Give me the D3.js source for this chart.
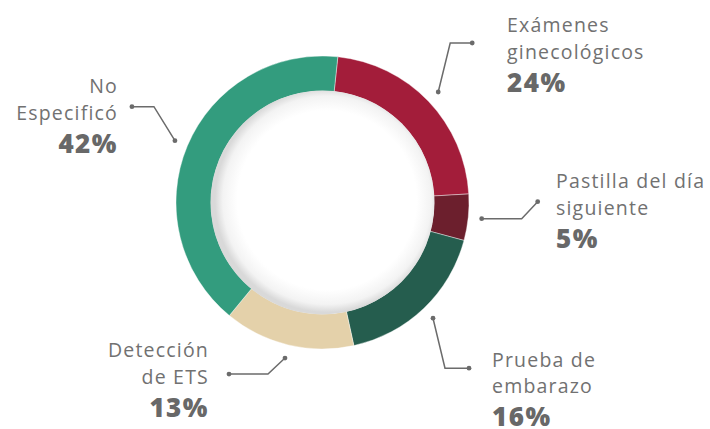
<!DOCTYPE html>
<html>
<head>
<meta charset="utf-8">
<script src="https://cdn.jsdelivr.net/npm/d3@7"></script>
<style>
  html, body { margin: 0; padding: 0; background: #fff; }
  svg { display: block; }
</style>
</head>
<body>
<div id="chart"></div>
<script>
// categories, slice sizes and the printed percent labels
var categories = [["Exámenes", "ginecológicos"], ["Pastilla del día", "siguiente"], ["Prueba de", "embarazo"], ["Detección", "de ETS"], ["No", "Especificó"]];
var values = [22.4, 5.1, 17.4, 14.4, 40.7];
var percentLabels = ["24%", "5%", "16%", "13%", "42%"];
var colors = ["#A31D3A", "#6C1F2D", "#255D4E", "#E4D1AA", "#339C7E"];

// where each label block and its leader go (layout only)
// bend = offset of the elbow from the dot on the ring, end = second dot, text = anchor of first line
var layout = [
  { bend: [12, -49], end: [34, -49], text: [507, 32], anchor: "start" },
  { bend: [40, 0], end: [56, -17], text: [556, 188], anchor: "start" },
  { bend: [12, 50], end: [36, 50], text: [492, 366.5], anchor: "start" },
  { bend: [-17, 16], end: [-56, 16], text: [209, 357], anchor: "end" },
  { bend: [-21, -34], end: [-43, -34], text: [118, 93], anchor: "end" }
];

var width = 710, height = 429;
var cx = 322.5, cy = 202.5, outerR = 146.5, innerR = 111.5;

var svg = d3.select("#chart").append("svg")
  .attr("width", width)
  .attr("height", height);

var defs = svg.append("defs");
var grad = defs.append("radialGradient")
  .attr("id", "innerShade")
  .attr("cx", "52%").attr("cy", "49%").attr("r", "50%");
grad.append("stop").attr("offset", "0.8").attr("stop-color", "#ffffff");
grad.append("stop").attr("offset", "0.93").attr("stop-color", "#f3f3f3");
grad.append("stop").attr("offset", "1").attr("stop-color", "#d9d9d9");

var g = svg.append("g").attr("transform", "translate(" + cx + "," + cy + ")");

// start angle: the first slice begins a little right of 12 o'clock
var startAngle = 6 * Math.PI / 180;
var pie = d3.pie()
  .sort(null)
  .startAngle(startAngle)
  .endAngle(startAngle + 2 * Math.PI);

var arcs = pie(values);

var arc = d3.arc()
  .innerRadius(innerR)
  .outerRadius(outerR);

g.selectAll("path.slice")
  .data(arcs)
  .enter()
  .append("path")
  .attr("class", "slice")
  .attr("d", arc)
  .attr("fill", function(d, i) { return colors[i]; })
  .attr("stroke", "#fff")
  .attr("stroke-width", 0.4);

// white centre with a soft inner shadow
g.append("circle")
  .attr("r", innerR + 0.5)
  .attr("fill", "url(#innerShade)");

// leader lines: first dot sits on the slice's mid angle just outside the ring
var leaderArc = d3.arc().innerRadius(160).outerRadius(160);
var lineColor = "#6b6b6b";

arcs.forEach(function(d, i) {
  var p = leaderArc.centroid(d);
  var px = cx + p[0], py = cy + p[1];
  var L = layout[i];
  var pts = [[px, py], [px + L.bend[0], py + L.bend[1]], [px + L.end[0], py + L.end[1]]];

  svg.append("path")
    .attr("d", d3.line()(pts))
    .attr("fill", "none")
    .attr("stroke", lineColor)
    .attr("stroke-width", 1.5);

  [pts[0], pts[2]].forEach(function(q) {
    svg.append("circle")
      .attr("cx", q[0]).attr("cy", q[1])
      .attr("r", 2.4)
      .attr("fill", lineColor);
  });

  var t = svg.append("text")
    .attr("x", L.text[0])
    .attr("y", L.text[1])
    .attr("text-anchor", L.anchor)
    .attr("fill", "#717171")
    .attr("font-family", "'Open Sans', sans-serif");

  t.append("tspan")
    .attr("x", L.text[0])
    .attr("font-size", 19.5)
    .attr("letter-spacing", 1.2)
    .text(categories[i][0]);
  t.append("tspan")
    .attr("x", L.text[0])
    .attr("dy", 26.8)
    .attr("font-size", 19.5)
    .attr("letter-spacing", 1.2)
    .text(categories[i][1]);
  t.append("tspan")
    .attr("x", L.text[0])
    .attr("dy", 33)
    .attr("font-size", 26)
    .attr("font-weight", 800)
    .attr("letter-spacing", 1.5)
    .attr("fill", "#686868")
    .text(percentLabels[i]);
});
</script>
</body>
</html>
